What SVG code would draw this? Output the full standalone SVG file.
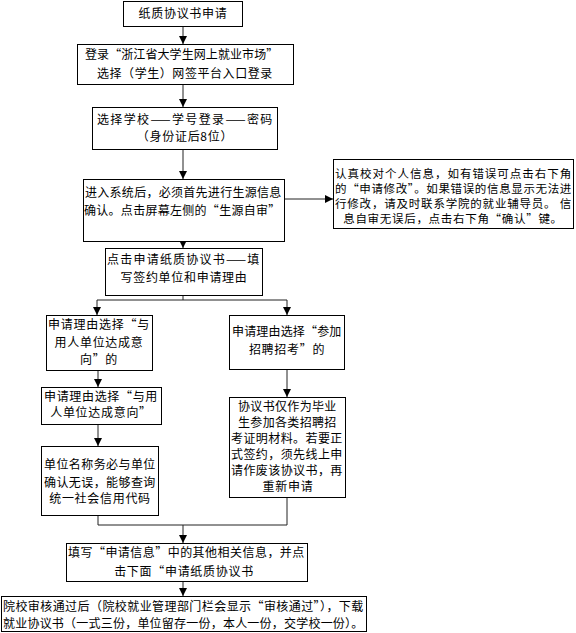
<svg xmlns="http://www.w3.org/2000/svg" width="576" height="633" viewBox="0 0 576 633">
<defs>
<style>
.box{fill:#fff;stroke:#000;stroke-width:1}
text{font-family:"Noto Sans CJK SC","Liberation Sans",sans-serif;font-size:12px;fill:#000;letter-spacing:0.7px}
.s{font-size:11.5px}
.c{text-anchor:middle}
.ln{fill:none;stroke:#222;stroke-width:1}
</style>
<marker id="ah" viewBox="0 0 8 8" refX="8" refY="4" markerWidth="8" markerHeight="8" orient="auto" markerUnits="userSpaceOnUse">
<path d="M0,0 L8,4 L0,8 z" fill="#000"/>
</marker>
</defs>
<rect width="576" height="633" fill="#fff"/>
<g id="connectors">
<path class="ln" d="M183,26 V44" marker-end="url(#ah)"/>
<path class="ln" d="M183,84 V107" marker-end="url(#ah)"/>
<path class="ln" d="M183,149 V179" marker-end="url(#ah)"/>
<path class="ln" d="M284,199 H333" marker-end="url(#ah)"/>
<path class="ln" d="M183,241 V248" marker-end="url(#ah)"/>
<path class="ln" d="M183,295 V300 M97,300 H287"/>
<path class="ln" d="M97,300 V315" marker-end="url(#ah)"/>
<path class="ln" d="M287,300 V315" marker-end="url(#ah)"/>
<path class="ln" d="M98,370 V387" marker-end="url(#ah)"/>
<path class="ln" d="M98,424 V446" marker-end="url(#ah)"/>
<path class="ln" d="M287,369 V397" marker-end="url(#ah)"/>
<path class="ln" d="M98,515 V525 H287 V497"/>
<path class="ln" d="M183,525 V543" marker-end="url(#ah)"/>
<path class="ln" d="M183,581 V596" marker-end="url(#ah)"/>
</g>
<g id="n1">
<rect class="box" x="123.5" y="1.5" width="119" height="25"/>
<text class="c" x="183" y="18">纸质协议书申请</text>
</g>
<g id="n2">
<rect class="box" x="77.5" y="44.5" width="216" height="40"/>
<text x="85" y="59" textLength="194" lengthAdjust="spacing">登录“浙江省大学生网上就业市场”</text>
<text x="97" y="78" textLength="176" lengthAdjust="spacing">选择（学生）网签平台入口登录</text>
</g>
<g id="n3">
<rect class="box" x="92.5" y="107.5" width="185" height="42"/>
<text x="97" y="124" textLength="176" lengthAdjust="spacing">选择学校——学号登录——密码</text>
<text class="c" x="185" y="141">（身份证后8位）</text>
</g>
<g id="n4">
<rect class="box" x="83.5" y="179.5" width="201" height="62"/>
<text x="85" y="197" textLength="197" lengthAdjust="spacing">进入系统后，必须首先进行生源信息</text>
<text x="84" y="215" textLength="197" lengthAdjust="spacing">确认。点击屏幕左侧的“生源自审”</text>
</g>
<g id="nR">
<rect class="box" x="333.5" y="159.5" width="240" height="69"/>
<text class="s" x="335" y="178" textLength="237" lengthAdjust="spacing">认真校对个人信息，如有错误可点击右下角</text>
<text class="s" x="335" y="193" textLength="237" lengthAdjust="spacing">的“申请修改”。如果错误的信息显示无法进</text>
<text class="s" x="335" y="208" textLength="237" lengthAdjust="spacing">行修改，请及时联系学院的就业辅导员。 信</text>
<text class="s c" x="453" y="223">息自审无误后，点击右下角“确认”键。</text>
</g>
<g id="n5">
<rect class="box" x="105.5" y="248.5" width="157" height="47"/>
<text x="107" y="264" textLength="153" lengthAdjust="spacing">点击申请纸质协议书——填</text>
<text class="c" x="184" y="282">写签约单位和申请理由</text>
</g>
<g id="nA">
<rect class="box" x="46.5" y="315.5" width="106" height="55"/>
<text x="48" y="329" textLength="102" lengthAdjust="spacing">申请理由选择“与</text>
<text class="c" x="99" y="347">用人单位达成意</text>
<text class="c" x="99" y="364">向”的</text>
</g>
<g id="nB">
<rect class="box" x="41.5" y="387.5" width="120" height="37"/>
<text x="44" y="401" textLength="114" lengthAdjust="spacing">申请理由选择“与用</text>
<text class="c" x="101" y="417">人单位达成意向”</text>
</g>
<g id="nE">
<rect class="box" x="41.5" y="446.5" width="117" height="69"/>
<text x="44" y="469" textLength="112" lengthAdjust="spacing">单位名称务必与单位</text>
<text x="44" y="487" textLength="112" lengthAdjust="spacing">确认无误，能够查询</text>
<text class="c" x="100" y="503">统一社会信用代码</text>
</g>
<g id="nC">
<rect class="box" x="229.5" y="315.5" width="115" height="54"/>
<text x="232" y="336" textLength="110" lengthAdjust="spacing">申请理由选择“参加</text>
<text class="c" x="287" y="354">招聘招考”的</text>
</g>
<g id="nD">
<rect class="box" x="229.5" y="397.5" width="116" height="100"/>
<text x="238" y="411" textLength="99" lengthAdjust="spacing">协议书仅作为毕业</text>
<text x="238" y="427" textLength="99" lengthAdjust="spacing">生参加各类招聘招</text>
<text x="231" y="443" textLength="112" lengthAdjust="spacing">考证明材料。若要正</text>
<text x="231" y="459" textLength="112" lengthAdjust="spacing">式签约，须先线上申</text>
<text x="231" y="475" textLength="112" lengthAdjust="spacing">请作废该协议书，再</text>
<text class="c" x="288" y="491">重新申请</text>
</g>
<g id="nF">
<rect class="box" x="66.5" y="543.5" width="241" height="38"/>
<text x="68" y="557" textLength="237" lengthAdjust="spacing">填写“申请信息”中的其他相关信息，并点</text>
<text class="c" x="184" y="576">击下面“申请纸质协议书</text>
</g>
<g id="nG">
<rect class="box" x="1.5" y="596.5" width="365" height="35"/>
<text x="3" y="611" textLength="361" lengthAdjust="spacing">院校审核通过后（院校就业管理部门栏会显示“审核通过”），下载</text>
<text x="3" y="628" textLength="361" lengthAdjust="spacing">就业协议书（一式三份，单位留存一份，本人一份，交学校一份）。</text>
</g>
</svg>
